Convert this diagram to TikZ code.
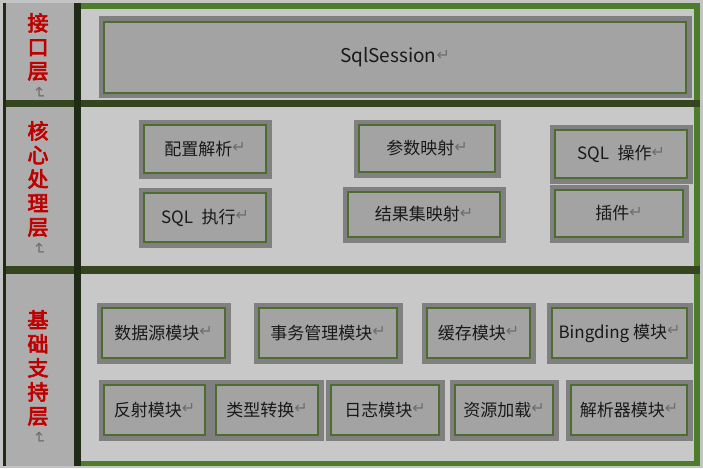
\documentclass[tikz,border=0pt]{standalone}
\usepackage{fontspec}
\setmainfont{Noto Sans CJK SC}
\newfontfamily\markfont{DejaVu Sans}
\newfontfamily\layerfont[FakeBold=3.5]{Noto Sans CJK SC}
\usetikzlibrary{positioning}
\definecolor{bggray}{HTML}{C4C4C4}
\definecolor{panelgray}{HTML}{C8C8C8}
\definecolor{colgray}{HTML}{ADADAD}
\definecolor{boxgray}{HTML}{A3A3A3}
\definecolor{rimgray}{HTML}{808080}
\definecolor{boxgreen}{HTML}{4E6B30}
\definecolor{framegreen}{HTML}{4B7D2B}
\definecolor{sepgreen}{HTML}{34451F}
\definecolor{coldark}{HTML}{1F2B15}
\definecolor{layerred}{HTML}{C00000}
\definecolor{markgray}{HTML}{6E6E6E}
\newcommand{\pmark}{{\markfont\fontsize{16}{16}\selectfont\color{markgray}\raisebox{2.5pt}{↵}}}
\newcommand{\vmark}{\rotatebox{-90}{\pmark}}
\tikzset{module/.style={rectangle,draw=boxgreen,line width=2pt,fill=boxgray,inner sep=0pt,outer sep=0pt,minimum height=50pt,text=black!90,font=\fontsize{17}{20}\selectfont,preaction={draw=rimgray,line width=11pt}}}
\tikzset{layer/.style={align=center,text=layerred,inner sep=0pt,anchor=north,font=\layerfont\fontsize{21}{24}\selectfont}}

\begin{document}
\begin{tikzpicture}[x=1pt,y=-1pt]
\useasboundingbox (0,0) rectangle (703,468);
% layer frames
\fill[bggray] (0,0) rectangle (703,468);
\fill[panelgray] (80,5) rectangle (700,466);
\fill[colgray] (3,3) rectangle (77,466);
\draw[framegreen,line width=6pt] (80,6.5) -- (700,6.5);
\draw[framegreen,line width=6pt] (697,3.5) -- (697,466);
\draw[framegreen,line width=5pt] (80,463) -- (700,463);
\draw[sepgreen,line width=7pt] (3,104) -- (700,104);
\draw[sepgreen,line width=8pt] (3,270) -- (700,270);
\draw[coldark,line width=3pt] (4.5,3) -- (4.5,466);
\draw[coldark,line width=7pt] (77,3) -- (77,466);

\node (api) [layer] at (38,13) {接\\口\\层\\[-16pt]\vmark};
\node (core) [layer] at (38,121) {核\\心\\处\\理\\层\\[-16pt]\vmark};
\node (base) [layer] at (38,310) {基\\础\\支\\持\\层\\[-16pt]\vmark};

\begin{scope}
	\node (session) [module, minimum width=582pt, minimum height=71pt, font=\fontsize{19}{22}\selectfont] at (395,57.5) {SqlSession\pmark};
	% core layer
	\node (cfg) [module, minimum width=122pt, minimum height=48pt] at (205,149) {配置解析\pmark};
	\node (exec) [module, minimum width=122pt, minimum height=49pt, below=20pt of cfg] {SQL\hspace{.5em}执行\pmark};
	\node (param) [module, minimum width=136pt, minimum height=47pt] at (427,148.5) {参数映射\pmark};
	\node (result) [module, minimum width=152pt, minimum height=45pt] at (424,214.5) {结果集映射\pmark};
	\node (sqlop) [module, minimum width=132pt, minimum height=48pt] at (621,154) {SQL\hspace{.5em}操作\pmark};
	\node (plugin) [module, minimum width=128pt, minimum height=47pt] at (619,213.5) {插件\pmark};
	% base layer
	\node (ds) [module, minimum width=123pt] at (163.5,333) {数据源模块\pmark};
	\node (tx) [module, minimum width=138pt, right=34pt of ds] {事务管理模块\pmark};
	\node (cache) [module, minimum width=103pt, right=30pt of tx] {缓存模块\pmark};
	\node (binding) [module, minimum width=135pt, right=22pt of cache] {Bingding 模块\pmark};
	\node (refl) [module, minimum width=101pt] at (154.5,410) {反射模块\pmark};
	\node (type) [module, minimum width=102pt, right=11pt of refl] {类型转换\pmark};
	\node (log) [module, minimum width=108pt, right=13pt of type] {日志模块\pmark};
	\node (res) [module, minimum width=98pt, right=16pt of log] {资源加载\pmark};
	\node (parser) [module, minimum width=116pt, right=18pt of res] {解析器模块\pmark};
\end{scope}
\end{tikzpicture}
\end{document}
